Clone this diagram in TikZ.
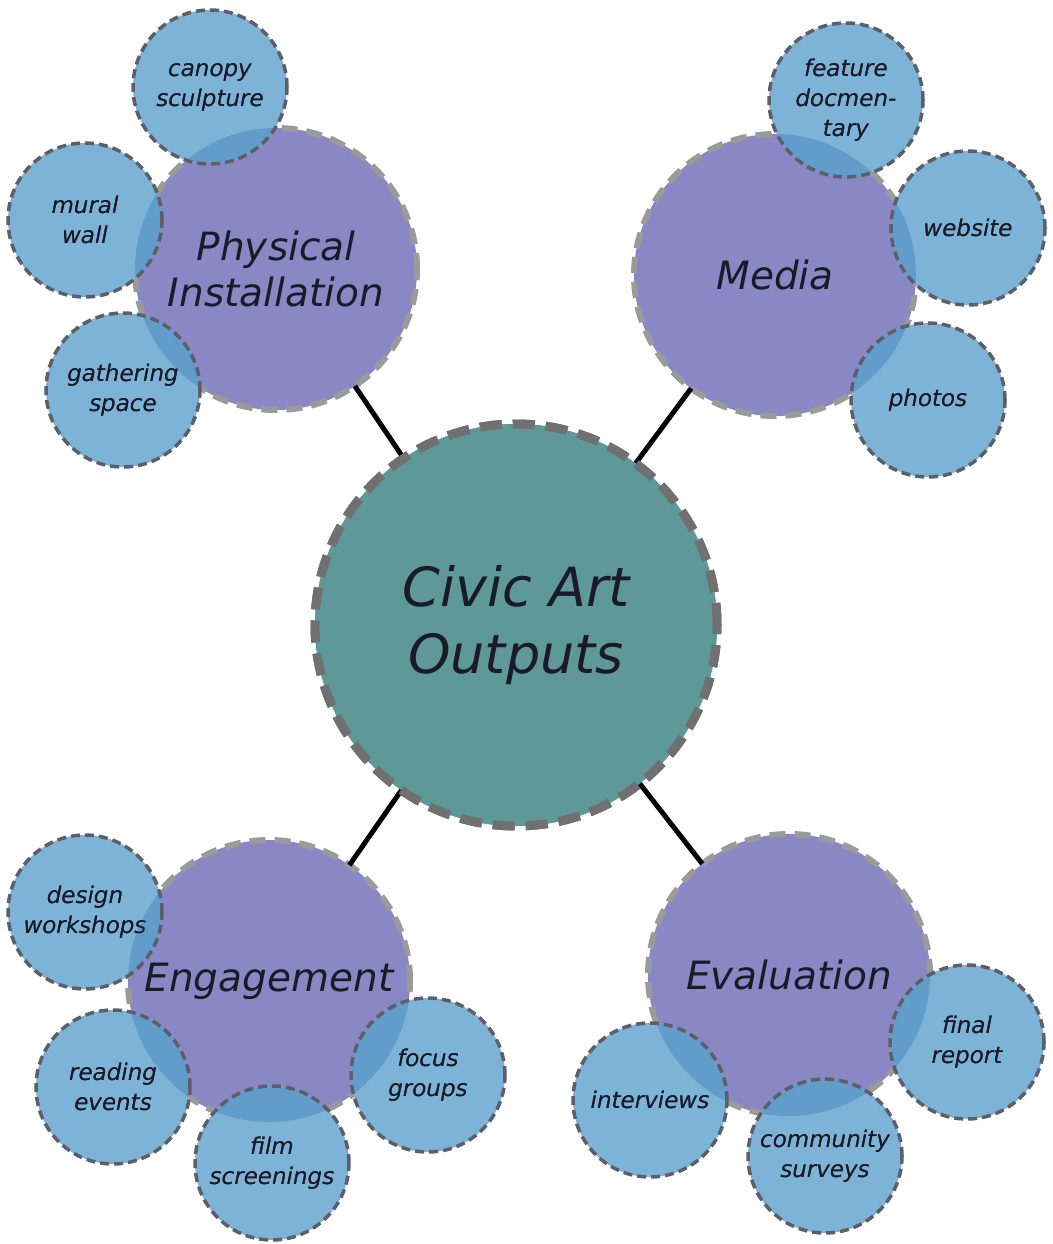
\documentclass[tikz,border=0pt]{standalone}
\usepackage{fontspec}
\setmainfont{DejaVu Sans}
\definecolor{teal1}{HTML}{5F9899}
\definecolor{purp}{HTML}{8A87C5}
\definecolor{blu}{HTML}{7DB3D6}
\definecolor{ovl}{HTML}{629CCB}
\definecolor{cborder}{HTML}{707070}
\definecolor{bborder}{HTML}{9A9A9A}
\definecolor{sborder}{HTML}{5E5E68}
\definecolor{txt}{HTML}{1A1A28}
\tikzset{
  center/.style={circle, minimum size=402pt, inner sep=0pt, outer sep=0pt, fill=teal1,
    draw=cborder, line width=9pt, dash pattern=on 22pt off 11pt, text=txt, align=center,
    font=\fontsize{54}{67}\selectfont\itshape},
  bigc/.style={circle, minimum size=282pt, inner sep=0pt, outer sep=0pt, fill=purp,
    draw=bborder, line width=6pt, dash pattern=on 16pt off 9pt, text=txt, align=center,
    font=\fontsize{39}{46}\selectfont\itshape},
  smallc/.style={circle, minimum size=154pt, inner sep=0pt, outer sep=0pt, fill=blu,
    text=txt, align=center, font=\fontsize{23}{30}\selectfont\itshape},
  smallb/.style={draw=sborder, line width=3.5pt, dash pattern=on 9pt off 5pt},
  conn/.style={line width=5pt, black}
}
\newcommand{\smallnode}[4]{% name, big name, position, text
  \node[smallc] (#1) at #3 {#4};
  \begin{scope}
    \clip (#1.center) circle (77pt);
    \fill[ovl] (#2.center) circle (141pt);
  \end{scope}
  \node[smallc, fill=none] (#1t) at #3 {#4};
  \draw[smallb] (#1.center) circle (77pt);
}
\begin{document}
\begin{tikzpicture}[x=1pt, y=-1pt]
\useasboundingbox (0,0) rectangle (1052,1244);
\fill[white] (0,0) rectangle (1052,1244);
% big category circles
\node[bigc] (pi) at (276,269) {Physical\\Installation};
\node[bigc] (me) at (775,275) {Media};
\node[bigc] (en) at (269,981) {Engagement};
\node[bigc] (ev) at (789,975) {Evaluation};
% sub-items
\smallnode{canopy}{pi}{(210,87)}{canopy\\sculpture}
\smallnode{mural}{pi}{(85,220)}{mural\\wall}
\smallnode{gather}{pi}{(123,390)}{gathering\\space}
\smallnode{feature}{me}{(846,100)}{feature\\docmen-\\tary}
\smallnode{website}{me}{(968,228)}{website}
\smallnode{photos}{me}{(928,400)}{photos}
\smallnode{design}{en}{(85,912)}{design\\workshops}
\smallnode{reading}{en}{(113,1087)}{reading\\events}
\smallnode{film}{en}{(272,1163)}{film\\screenings}
\smallnode{focus}{en}{(428,1075)}{focus\\groups}
\smallnode{interv}{ev}{(650,1100)}{interviews}
\smallnode{survey}{ev}{(825,1156)}{community\\surveys}
\smallnode{final}{ev}{(967,1042)}{final\\report}
% connectors
\node[center] (c) at (516,625) {Civic Art\\Outputs};
\draw[conn] (c) -- (pi);
\draw[conn] (c) -- (me);
\draw[conn] (c) -- (en);
\draw[conn] (c) -- (ev);
\node[center] (c2) at (516,625) {Civic Art\\Outputs};
\end{tikzpicture}
\end{document}
